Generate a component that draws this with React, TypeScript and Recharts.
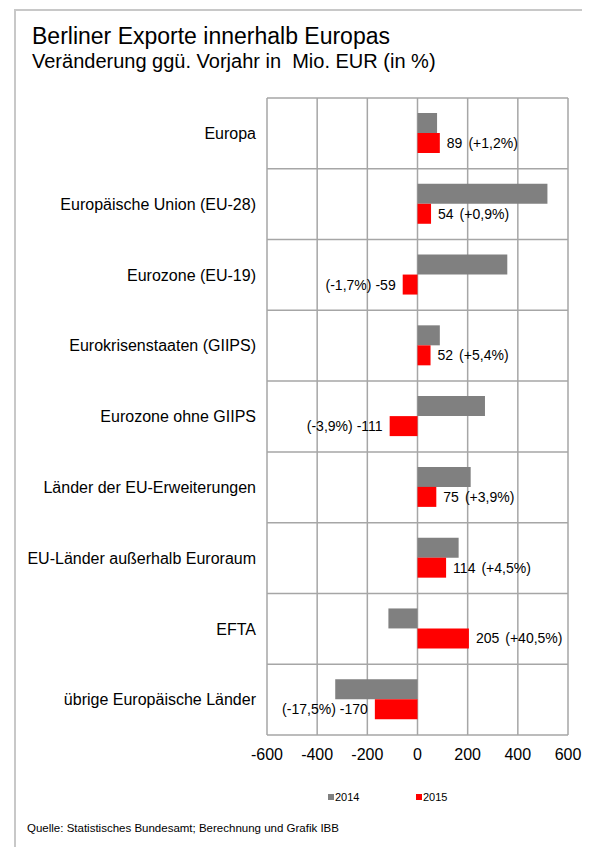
import { Bar, BarChart, CartesianGrid, LabelList, XAxis, YAxis } from 'recharts'

const categories = [
  'Europa',
  'Europäische Union (EU-28)',
  'Eurozone (EU-19)',
  'Eurokrisenstaaten (GIIPS)',
  'Eurozone ohne GIIPS',
  'Länder der EU-Erweiterungen',
  'EU-Länder außerhalb Euroraum',
  'EFTA',
  'übrige Europäische Länder',
]
const values2014 = [78, 518, 358, 89, 269, 212, 164, -116, -328]
const values2015 = [89, 54, -59, 52, -111, 75, 114, 205, -170]
const change2015 = ['+1,2%', '+0,9%', '-1,7%', '+5,4%', '-3,9%', '+3,9%', '+4,5%', '+40,5%', '-17,5%']
const xTicks = [-600, -400, -200, 0, 200, 400, 600]

const data = categories.map((name, i) => ({ name, y2014: values2014[i], y2015: values2015[i], pct: change2015[i] }))

const FONT = '"Liberation Sans", Arial, sans-serif'

function renderValueLabel(props: any) {
  const { x, y, width, height, value, index } = props
  const left = Math.min(x, x + width)
  const right = Math.max(x, x + width)
  const cy = y + height / 2
  const pct = data[index]?.pct
  if (value >= 0) {
    return (
      <text x={right + 7} y={cy} dy="0.36em" fontSize={14} fill="#000" fontFamily={FONT} textAnchor="start">
        <tspan>{value}</tspan>
        <tspan dx={6}>({pct})</tspan>
      </text>
    )
  }
  return (
    <text x={left - 7} y={cy} dy="0.36em" fontSize={14} fill="#000" fontFamily={FONT} textAnchor="end">
      <tspan>({pct})</tspan>
      <tspan dx={4}>{value}</tspan>
    </text>
  )
}

export default function App() {
  return (
    <div style={{ position: 'relative', width: 582, height: 839, fontFamily: FONT, background: '#fff' }}>
      <svg width={582} height={839} style={{ position: 'absolute', left: 0, top: 0 }}>
        <line x1={7} y1={2} x2={7} y2={839} stroke="#c8c8c8" strokeWidth={2} />
        <line x1={6} y1={2} x2={582} y2={2} stroke="#c8c8c8" strokeWidth={2} />
        <text x={24} y={36} fontSize={23} fill="#000">Berliner Exporte innerhalb Europas</text>
        <text x={24} y={60} fontSize={20} fill="#000" style={{ whiteSpace: 'pre' }}>Veränderung ggü. Vorjahr in  Mio. EUR (in %)</text>
        <rect x={320} y={786} width={6} height={6} fill="#808080" />
        <text x={327} y={793} fontSize={11} fill="#000">2014</text>
        <rect x={408} y={786} width={6} height={6} fill="#ff0000" />
        <text x={415} y={793} fontSize={11} fill="#000">2015</text>
        <text x={19} y={824} fontSize={11.5} fill="#000">Quelle: Statistisches Bundesamt; Berechnung und Grafik IBB</text>
      </svg>
      <div style={{ position: 'absolute', left: 0, top: 0 }}>
        <BarChart
          width={582}
          height={760}
          data={data}
          layout="vertical"
          margin={{ top: 90, right: 22, left: 0, bottom: 3 }}
          barSize={20}
          barGap={0}
        >
          <CartesianGrid
            stroke="#a6a6a6"
            strokeWidth={1.5}
            horizontalCoordinatesGenerator={({ offset }: any) =>
              categories.concat(['']).map((_, i) => offset.top + (i * offset.height) / categories.length)
            }
          />
          <XAxis
            type="number"
            domain={[-600, 600]}
            ticks={xTicks}
            axisLine={false}
            tickLine={false}
            tickSize={0}
            tickMargin={14}
            height={30}
            tick={{ fontSize: 16, fill: '#000', fontFamily: FONT }}
          />
          <YAxis
            type="category"
            dataKey="name"
            width={259}
            axisLine={false}
            tickLine={false}
            tickSize={0}
            tickMargin={11}
            interval={0}
            tick={{ fontSize: 16, fill: '#000', fontFamily: FONT }}
          />
          <Bar dataKey="y2014" fill="#808080" isAnimationActive={false} />
          <Bar dataKey="y2015" fill="#ff0000" isAnimationActive={false}>
            <LabelList dataKey="y2015" content={renderValueLabel} />
          </Bar>
        </BarChart>
      </div>
    </div>
  )
}
